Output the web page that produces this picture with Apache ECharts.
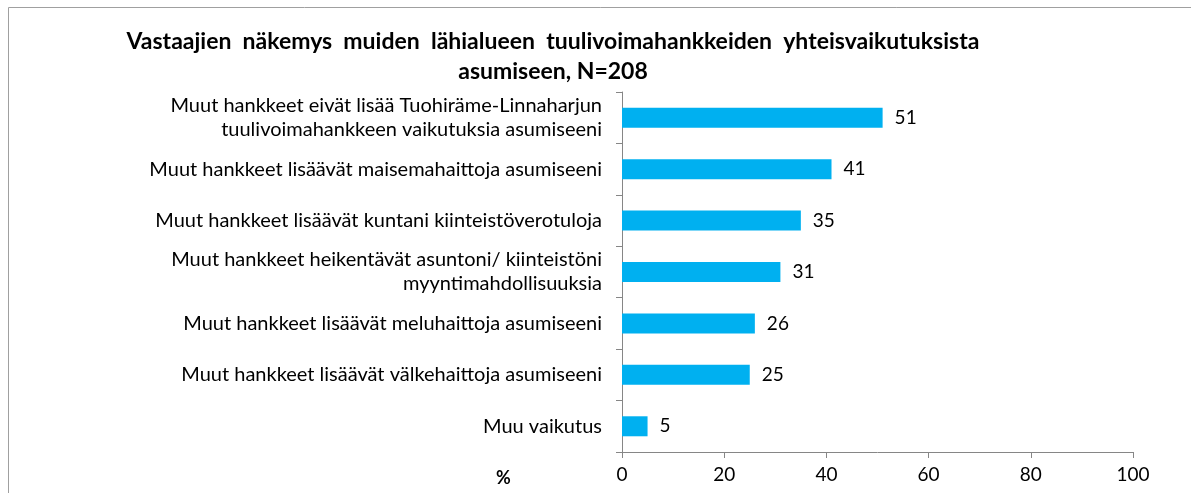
<!DOCTYPE html>
<html>
<head>
<meta charset="utf-8">
<script src="https://cdn.jsdelivr.net/npm/echarts@6/dist/echarts.min.js"></script>
<style>
  html, body { margin: 0; padding: 0; background: #fff; }
  #chart { width: 1191px; height: 493px; }
</style>
</head>
<body>
<div id="chart"></div>
<script>
// kategoriat ylhäältä alas
var categories = [
    'Muut hankkeet eivät lisää Tuohiräme-Linnaharjun\ntuulivoimahankkeen vaikutuksia asumiseeni',
    'Muut hankkeet lisäävät maisemahaittoja asumiseeni',
    'Muut hankkeet lisäävät kuntani kiinteistöverotuloja',
    'Muut hankkeet heikentävät asuntoni/ kiinteistöni\nmyyntimahdollisuuksia',
    'Muut hankkeet lisäävät meluhaittoja asumiseeni',
    'Muut hankkeet lisäävät välkehaittoja asumiseeni',
    'Muu vaikutus'
];
var values = [51, 41, 35, 31, 26, 25, 5];
var xTicks = [0, 20, 40, 60, 80, 100];

var font = 'Lato';
var chart = echarts.init(document.getElementById('chart'));
var option = {
    backgroundColor: '#fff',
    animation: false,
    title: {
        text: 'Vastaajien  näkemys  muiden  lähialueen  tuulivoimahankkeiden  yhteisvaikutuksista\nasumiseen, N=208',
        left: 548,
        top: 22,
        textAlign: 'center',
        textStyle: {
            fontFamily: font,
            fontSize: 23,
            fontWeight: 'bold',
            color: '#000',
            lineHeight: 30
        }
    },
    grid: {
        left: 622,
        right: 58,
        top: 92,
        bottom: 41
    },
    xAxis: {
        type: 'value',
        min: 0,
        max: 100,
        interval: 20,
        splitLine: { show: false },
        axisLine: { show: true, lineStyle: { color: '#868686' } },
        axisTick: { show: true, length: 6, lineStyle: { color: '#868686' } },
        axisLabel: {
            margin: 13,
            fontFamily: font,
            fontSize: 19,
            color: '#000',
            formatter: function (v) { return xTicks.indexOf(v) >= 0 ? String(v) : ''; }
        }
    },
    yAxis: {
        type: 'category',
        inverse: true,
        data: categories,
        axisLine: { show: true, lineStyle: { color: '#868686' } },
        axisTick: { show: true, length: 6, lineStyle: { color: '#868686' } },
        axisLabel: {
            margin: 20,
            fontFamily: font,
            fontSize: 20,
            lineHeight: 24,
            color: '#000',
            align: 'right'
        }
    },
    series: [{
        type: 'bar',
        data: values,
        barWidth: 20,
        itemStyle: { color: '#00B0F0' },
        label: {
            show: true,
            position: 'right',
            distance: 12,
            fontFamily: font,
            fontSize: 19,
            color: '#000'
        }
    }],
    graphic: [
        {
            type: 'rect',
            shape: { x: 8.5, y: 7.5, width: 1200, height: 600 },
            style: { fill: 'none', stroke: '#a0a0a0', lineWidth: 1 },
            silent: true
        },
        {
            type: 'text',
            left: 496,
            top: 469,
            style: {
                text: '%',
                fontFamily: font,
                fontSize: 18,
                fontWeight: 'bold',
                fill: '#000'
            }
        }
    ]
};
chart.setOption(option);
</script>
</body>
</html>
